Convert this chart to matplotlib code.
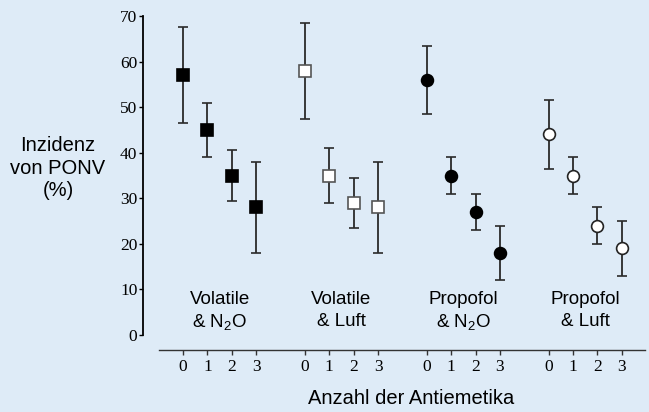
import numpy as np
import matplotlib.pyplot as plt

plt.rcParams['font.family'] = ['Liberation Serif', 'DejaVu Serif']
plt.rcParams['mathtext.fontset'] = 'custom'
plt.rcParams['mathtext.rm'] = 'Liberation Sans'
plt.rcParams['mathtext.it'] = 'Liberation Sans:italic'

# data (incidence of PONV in %)
groups = ['Volatile', 'Volatile', 'Propofol', 'Propofol']
group_sub = [r'& N$_2$O', '& Luft', r'& N$_2$O', '& Luft']
n_antiemetics = [0, 1, 2, 3]

mean = [[57, 45, 35, 28],
        [58, 35, 29, 28],
        [56, 35, 27, 18],
        [44, 35, 24, 19]]
upper = [[67.5, 51, 40.5, 38],
         [68.5, 41, 34.5, 38],
         [63.5, 39, 31, 24],
         [51.5, 39, 28, 25]]
lower = [[46.5, 39, 29.5, 18],
         [47.5, 29, 23.5, 18],
         [48.5, 31, 23, 12],
         [36.5, 31, 20, 13]]

markers = ['s', 's', 'o', 'o']
facecolors = ['black', 'white', 'black', 'white']
edgecolors = ['black', '#555555', 'black', '#222222']

bg = '#deebf7'
sans = 'Liberation Sans'
fig = plt.figure(figsize=(6.49, 4.12), dpi=100, facecolor=bg)
ax = fig.add_axes([143 / 649, 1 - 335 / 412, (645 - 143) / 649, (335 - 16) / 412])
ax.set_facecolor(bg)

gap = 5
for g in range(4):
    x = np.array(n_antiemetics) + g * gap
    m = np.array(mean[g])
    yerr = [m - np.array(lower[g]), np.array(upper[g]) - m]
    ax.errorbar(x, m, yerr=yerr, fmt=markers[g], color='#2a2a2a', ecolor='#2a2a2a',
                elinewidth=1.3, capsize=3.8, capthick=1.3,
                markersize=8.5 if markers[g] == 'o' else 8,
                markerfacecolor=facecolors[g], markeredgecolor=edgecolors[g],
                markeredgewidth=1.2, zorder=3)
    xc = g * gap + 1.5
    ax.text(xc, 7.7, groups[g], ha='center', va='center', fontsize=13.5, family=sans)
    ax.text(xc, 2.9, group_sub[g], ha='center', va='center', fontsize=13.5, family=sans)

xticks = [n + g * gap for g in range(4) for n in n_antiemetics]
ax.set_xticks(xticks)
ax.set_xticklabels([str(n) for g in range(4) for n in n_antiemetics])
ax.set_xlim(-1.64, 18.95)
ax.set_ylim(0, 70)
ax.set_yticks(range(0, 71, 10))

for s in ['top', 'right']:
    ax.spines[s].set_visible(False)
ax.spines['left'].set_linewidth(1.3)
ax.spines['left'].set_color('black')
ax.spines['bottom'].set_position(('outward', 10.8))
ax.spines['bottom'].set_bounds(-1.0, 18.95)
ax.spines['bottom'].set_color('#333333')
ax.spines['bottom'].set_linewidth(1.0)
ax.tick_params(axis='y', direction='out', length=3, width=1, pad=1, color='black',
               labelsize=12.5)
ax.tick_params(axis='x', direction='out', length=3.5, width=1, pad=3, color='#333333',
               labelsize=12.5)

fig.text(411 / 649, 1 - 399 / 412, 'Anzahl der Antiemetika', ha='center', va='center',
         fontsize=14.5, family=sans)
fig.text(58 / 649, 1 - 168 / 412, 'Inzidenz\nvon PONV\n(%)', ha='center', va='center',
         multialignment='center', fontsize=14.5, family=sans, linespacing=1.25)

fig.savefig('out.png', dpi=100, facecolor=bg)
